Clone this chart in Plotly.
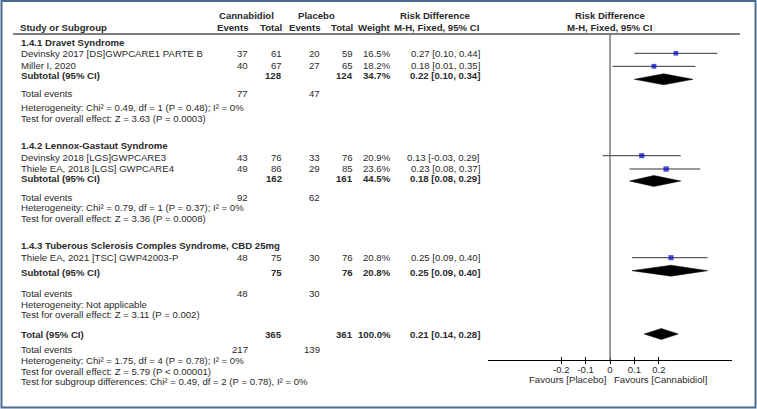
import plotly.graph_objects as go

# ---------------- data ----------------
studies = ["Devinsky 2017 [DS]GWPCARE1 PARTE B", "Miller I, 2020",
           "Devinsky 2018 [LGS]GWPCARE3", "Thiele EA, 2018 [LGS] GWPCARE4",
           "Thiele EA, 2021 [TSC] GWP42003-P"]
cbd_events = [37, 40, 43, 49, 48]
cbd_total = [61, 67, 76, 86, 75]
pbo_events = [20, 27, 33, 29, 30]
pbo_total = [59, 65, 76, 85, 76]
weights = [16.5, 18.2, 20.9, 23.6, 20.8]
rd = [0.27, 0.18, 0.13, 0.23, 0.25]
rd_lo = [0.10, 0.01, -0.03, 0.08, 0.09]
rd_hi = [0.44, 0.35, 0.29, 0.37, 0.40]

subgroups = ["1.4.1 Dravet Syndrome", "1.4.2 Lennox-Gastaut Syndrome",
             "1.4.3 Tuberous Sclerosis Comples Syndrome, CBD 25mg"]
sub_cbd_total = [128, 162, 75]
sub_pbo_total = [124, 161, 76]
sub_cbd_events = [77, 92, 48]
sub_pbo_events = [47, 62, 30]
sub_weight = [34.7, 44.5, 20.8]
sub_rd = [0.22, 0.18, 0.25]
sub_lo = [0.10, 0.08, 0.09]
sub_hi = [0.34, 0.29, 0.40]
sub_het = ["Heterogeneity: Chi² = 0.49, df = 1 (P = 0.48); I² = 0%",
           "Heterogeneity: Chi² = 0.79, df = 1 (P = 0.37); I² = 0%",
           "Heterogeneity: Not applicable"]
sub_test = ["Test for overall effect: Z = 3.63 (P = 0.0003)",
            "Test for overall effect: Z = 3.36 (P = 0.0008)",
            "Test for overall effect: Z = 3.11 (P = 0.002)"]

tot_cbd_total = 365
tot_pbo_total = 361
tot_weight = 100.0
tot_rd, tot_lo, tot_hi = 0.21, 0.14, 0.28
tot_cbd_events = 217
tot_pbo_events = 139
tot_het = "Heterogeneity: Chi² = 1.75, df = 4 (P = 0.78); I² = 0%"
tot_test = "Test for overall effect: Z = 5.79 (P < 0.00001)"
sub_diff = "Test for subgroup differences: Chi² = 0.49, df = 2 (P = 0.78), I² = 0%"

tick_vals = [-0.2, -0.1, 0, 0.1, 0.2]
tick_text = ["-0.2", "-0.1", "0", "0.1", "0.2"]
x_range = [-0.5, 0.5]

# ---------------- layout (pixel rows) ----------------
W, H = 757, 409
FONT = "Liberation Sans, Arial, sans-serif"
FS = 9.6
TXT = "#2a2a2a"

grp_header_y = [42, 145, 245]
study_text_y = [53.5, 66, 157, 168.8, 257.5]
study_mark_y = [53.3, 66.3, 155.7, 169, 257.7]
sub_text_y = [75, 179, 272]
sub_diam_y = [79.3, 181, 270.7]
sub_events_y = [93.5, 197, 293]
sub_het_y = [107, 207.5, 304]
sub_test_y = [118, 218, 314]
tot_text_y = 334
tot_diam_y = 334
tot_events_y = 349
tot_het_y = 360
tot_test_y = 371
sub_diff_y = 381

col_x = [248, 281.5, 320, 352.5, 391, 479.5]  # right edges
name_x = 21
axis_y = 360

def px(x):
    return x / W

def py(y):
    return 1 - y / H

fig = go.Figure()
ann = []

def txt(x, y, s, anchor="left", bold=False, size=FS):
    ann.append(dict(x=px(x), y=py(y), xref="paper", yref="paper",
                    text=("<b>%s</b>" % s) if bold else s, showarrow=False,
                    xanchor=anchor, yanchor="middle",
                    font=dict(family=FONT, size=size, color=TXT),
                    borderpad=0, borderwidth=0))

# headers
txt(246.5, 15, "Cannabidiol", "center", True)
txt(316.5, 15, "Placebo", "center", True)
txt(435, 15, "Risk Difference", "center", True)
txt(609.5, 15, "Risk Difference", "center", True)
txt(20, 28, "Study or Subgroup", "left", True)
for x, s in zip(col_x, ["Events", "Total", "Events", "Total", "Weight", "M-H, Fixed, 95% CI"]):
    txt(x, 28, s, "right", True)
txt(610, 28, "M-H, Fixed, 95% CI", "center", True)

# studies
for i, s in enumerate(studies):
    y = study_text_y[i]
    txt(name_x, y, s)
    vals = [str(cbd_events[i]), str(cbd_total[i]), str(pbo_events[i]), str(pbo_total[i]),
            "%.1f%%" % weights[i], "%.2f [%.2f, %.2f]" % (rd[i], rd_lo[i], rd_hi[i])]
    for x, v in zip(col_x, vals):
        txt(x, y, v, "right")

# subgroups
for g in range(3):
    txt(name_x, grp_header_y[g], subgroups[g], bold=True)
    y = sub_text_y[g]
    txt(name_x, y, "Subtotal (95% CI)", bold=True)
    txt(col_x[1], y, str(sub_cbd_total[g]), "right", True)
    txt(col_x[3], y, str(sub_pbo_total[g]), "right", True)
    txt(col_x[4], y, "%.1f%%" % sub_weight[g], "right", True)
    txt(col_x[5], y, "%.2f [%.2f, %.2f]" % (sub_rd[g], sub_lo[g], sub_hi[g]), "right", True)
    txt(name_x, sub_events_y[g], "Total events")
    txt(col_x[0], sub_events_y[g], str(sub_cbd_events[g]), "right")
    txt(col_x[2], sub_events_y[g], str(sub_pbo_events[g]), "right")
    txt(name_x, sub_het_y[g], sub_het[g])
    txt(name_x, sub_test_y[g], sub_test[g])

# overall
txt(name_x, tot_text_y, "Total (95% CI)", bold=True)
txt(col_x[1], tot_text_y, str(tot_cbd_total), "right", True)
txt(col_x[3], tot_text_y, str(tot_pbo_total), "right", True)
txt(col_x[4], tot_text_y, "%.1f%%" % tot_weight, "right", True)
txt(col_x[5], tot_text_y, "%.2f [%.2f, %.2f]" % (tot_rd, tot_lo, tot_hi), "right", True)
txt(name_x, tot_events_y, "Total events")
txt(col_x[0], tot_events_y, str(tot_cbd_events), "right")
txt(col_x[2], tot_events_y, str(tot_pbo_events), "right")
txt(name_x, tot_het_y, tot_het)
txt(name_x, tot_test_y, tot_test)
txt(name_x, sub_diff_y, sub_diff)

# favours labels
txt(606, 379, "Favours [Placebo]", "right")
txt(613.5, 379, "Favours [Cannabidiol]", "left")

# ---------------- forest marks ----------------
for i in range(len(studies)):
    y = study_mark_y[i]
    fig.add_trace(go.Scatter(x=[rd_lo[i], rd_hi[i]], y=[y, y], mode="lines",
                             line=dict(color="#333333", width=1), hoverinfo="skip",
                             showlegend=False, xaxis="x", yaxis="y"))
fig.add_trace(go.Scatter(x=rd, y=study_mark_y, mode="markers",
                         marker=dict(symbol="square", color="#0000CC",
                                     size=[3 + w / 10 for w in weights], line=dict(width=0)),
                         showlegend=False, xaxis="x", yaxis="y"))

def diamond(lo, est, hi, y, h=5.5):
    fig.add_trace(go.Scatter(x=[lo, est, hi, est, lo], y=[y, y - h, y, y + h, y],
                             mode="lines", fill="toself", fillcolor="#000000",
                             line=dict(color="#000000", width=0.5), hoverinfo="skip",
                             showlegend=False, xaxis="x", yaxis="y"))

for g in range(3):
    diamond(sub_lo[g], sub_rd[g], sub_hi[g], sub_diam_y[g])
diamond(tot_lo, tot_rd, tot_hi, tot_diam_y)

# overlay axis for downward tick marks
fig.add_trace(go.Scatter(x=[0], y=[axis_y], mode="markers", marker=dict(opacity=0),
                         showlegend=False, hoverinfo="skip", xaxis="x2", yaxis="y"))

shapes = [
    dict(type="line", xref="paper", yref="paper", x0=px(13), x1=px(740),
         y0=py(34), y1=py(34), line=dict(color="#000000", width=1)),
    dict(type="line", xref="x", yref="y", x0=0, x1=0, y0=34, y1=axis_y,
         line=dict(color="#7a7a7a", width=1.5)),
    dict(type="rect", xref="paper", yref="paper", x0=px(1.5), x1=px(755.5),
         y0=py(407.5), y1=py(1), line=dict(color="#4B6B93", width=2)),
]

dom_x = [px(488), px(732)]
fig.update_layout(
    width=W, height=H, margin=dict(l=0, r=0, t=0, b=0),
    paper_bgcolor="white", plot_bgcolor="rgba(0,0,0,0)",
    xaxis=dict(domain=dom_x, range=x_range, showgrid=False, zeroline=False,
               showline=True, linecolor="#000000", linewidth=1,
               ticks="inside", ticklen=3, tickcolor="#000000", tickwidth=1,
               tickvals=tick_vals, ticktext=tick_text,
               tickfont=dict(family=FONT, size=FS, color=TXT), anchor="y"),
    xaxis2=dict(domain=dom_x, range=x_range, overlaying="x", anchor="y", side="bottom",
                showgrid=False, zeroline=False, showline=False,
                ticks="outside", ticklen=3, tickcolor="#000000", tickwidth=1,
                tickvals=tick_vals, showticklabels=False),
    yaxis=dict(domain=[py(axis_y), 1], range=[axis_y, 0], visible=False,
               showgrid=False, zeroline=False),
    annotations=ann, shapes=shapes, showlegend=False,
)

fig.write_html("out.html", config={"displayModeBar": False},
               post_script="document.body.style.margin='0';")
